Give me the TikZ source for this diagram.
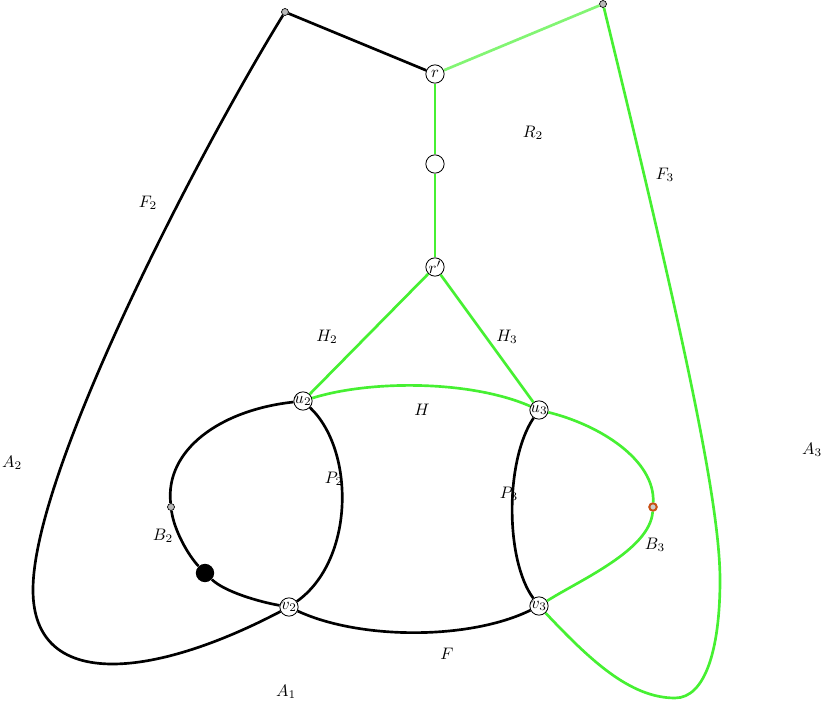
\documentclass[tikz,border=0pt]{standalone}
\begin{document}
\begin{tikzpicture}[x=0.6pt,y=-0.6pt,
  vtx/.style={circle,draw,fill=white,line width=0.5pt,minimum size=11pt,inner sep=0pt},
  gdot/.style={circle,draw,fill=gray!55,line width=0.4pt,minimum size=4.2pt,inner sep=0pt},
  bdotst/.style={circle,fill=black,minimum size=11pt,inner sep=0pt},
  ring/.style={circle,draw={rgb,255:red,200;green,80;blue,20},fill=gray!40,line width=1.2pt,minimum size=4.5pt,inner sep=0pt},
  blk/.style={line width=1.6pt,black},
  grn/.style={line width=1.6pt,color={rgb,255:red,70;green,240;blue,50}},
  lgrn/.style={line width=1.6pt,color={rgb,255:red,130;green,245;blue,115}},
  lab/.style={inner sep=0pt}]
\useasboundingbox (0,0) rectangle (824,701);
% nodes
\node[gdot] (g1) at (285,12) {};
\node[gdot] (g2) at (603,4) {};
\node[vtx,label={[inner sep=0pt]center:$r$}] (r) at (435,74) {};
\node[vtx] (m) at (435,164) {};
\node[vtx,label={[inner sep=0pt]center:$r'$}] (rp) at (435,267) {};
\node[vtx,label={[inner sep=0pt]center:$u_2$}] (u2) at (303,401) {};
\node[vtx,label={[inner sep=0pt]center:$u_3$}] (u3) at (539,410) {};
\node[vtx,label={[inner sep=0pt]center:$v_2$}] (v2) at (289,607) {};
\node[vtx,label={[inner sep=0pt]center:$v_3$}] (v3) at (539,606) {};
\node[gdot] (b2) at (171,507) {};
\node[bdotst] (bd) at (205,573) {};
\node[ring] (b3) at (653,507) {};
% black edges
\draw[blk] (g1) -- (r);
\draw[blk] (g1) .. controls (200,150) and (33,470) .. (33,590)
  .. controls (33,690) and (150,680) .. (v2);
\draw[blk] (u2) .. controls (355,450) and (355,560) .. (v2);
\draw[blk] (u3) .. controls (505,460) and (505,560) .. (v3);
\draw[blk] (v2) .. controls (360,640) and (470,640) .. (v3);
\draw[blk] (u2) .. controls (220,410) and (165,450) .. (b2);
\draw[blk] (b2) .. controls (174,530) and (188,555) .. (bd);
\draw[blk] (bd) .. controls (225,592) and (260,602) .. (v2);
% green edges
\draw[lgrn] (r) -- (g2);
\draw[grn] (r) -- (m);
\draw[grn] (m) -- (rp);
\draw[grn] (rp) -- (u2);
\draw[grn] (rp) -- (u3);
\draw[grn] (u2) .. controls (370,380) and (470,380) .. (u3);
\draw[grn] (u3) .. controls (600,425) and (655,460) .. (b3);
\draw[grn] (b3) .. controls (650,550) and (580,580) .. (v3);
\draw[grn] (v3) .. controls (590,660) and (630,698) .. (675,698)
  .. controls (705,698) and (720,650) .. (720,580)
  .. controls (720,500) and (680,320) .. (g2);
% labels
\node[lab] (lR2) at (533,133) {$R_2$};
\node[lab] (lF2) at (148,203) {$F_2$};
\node[lab] (lF3) at (665,175) {$F_3$};
\node[lab] (lH2) at (327,337) {$H_2$};
\node[lab] (lH3) at (507,337) {$H_3$};
\node[lab] (lH) at (422,410) {$H$};
\node[lab] (lP2) at (334,479) {$P_2$};
\node[lab] (lP3) at (509,494) {$P_3$};
\node[lab] (lB2) at (163,536) {$B_2$};
\node[lab] (lB3) at (655,545) {$B_3$};
\node[lab] (lA2) at (12,463) {$A_2$};
\node[lab] (lA3) at (812,450) {$A_3$};
\node[lab] (lF) at (447,654) {$F$};
\node[lab] (lA1) at (286,692) {$A_1$};
\end{tikzpicture}
\end{document}
